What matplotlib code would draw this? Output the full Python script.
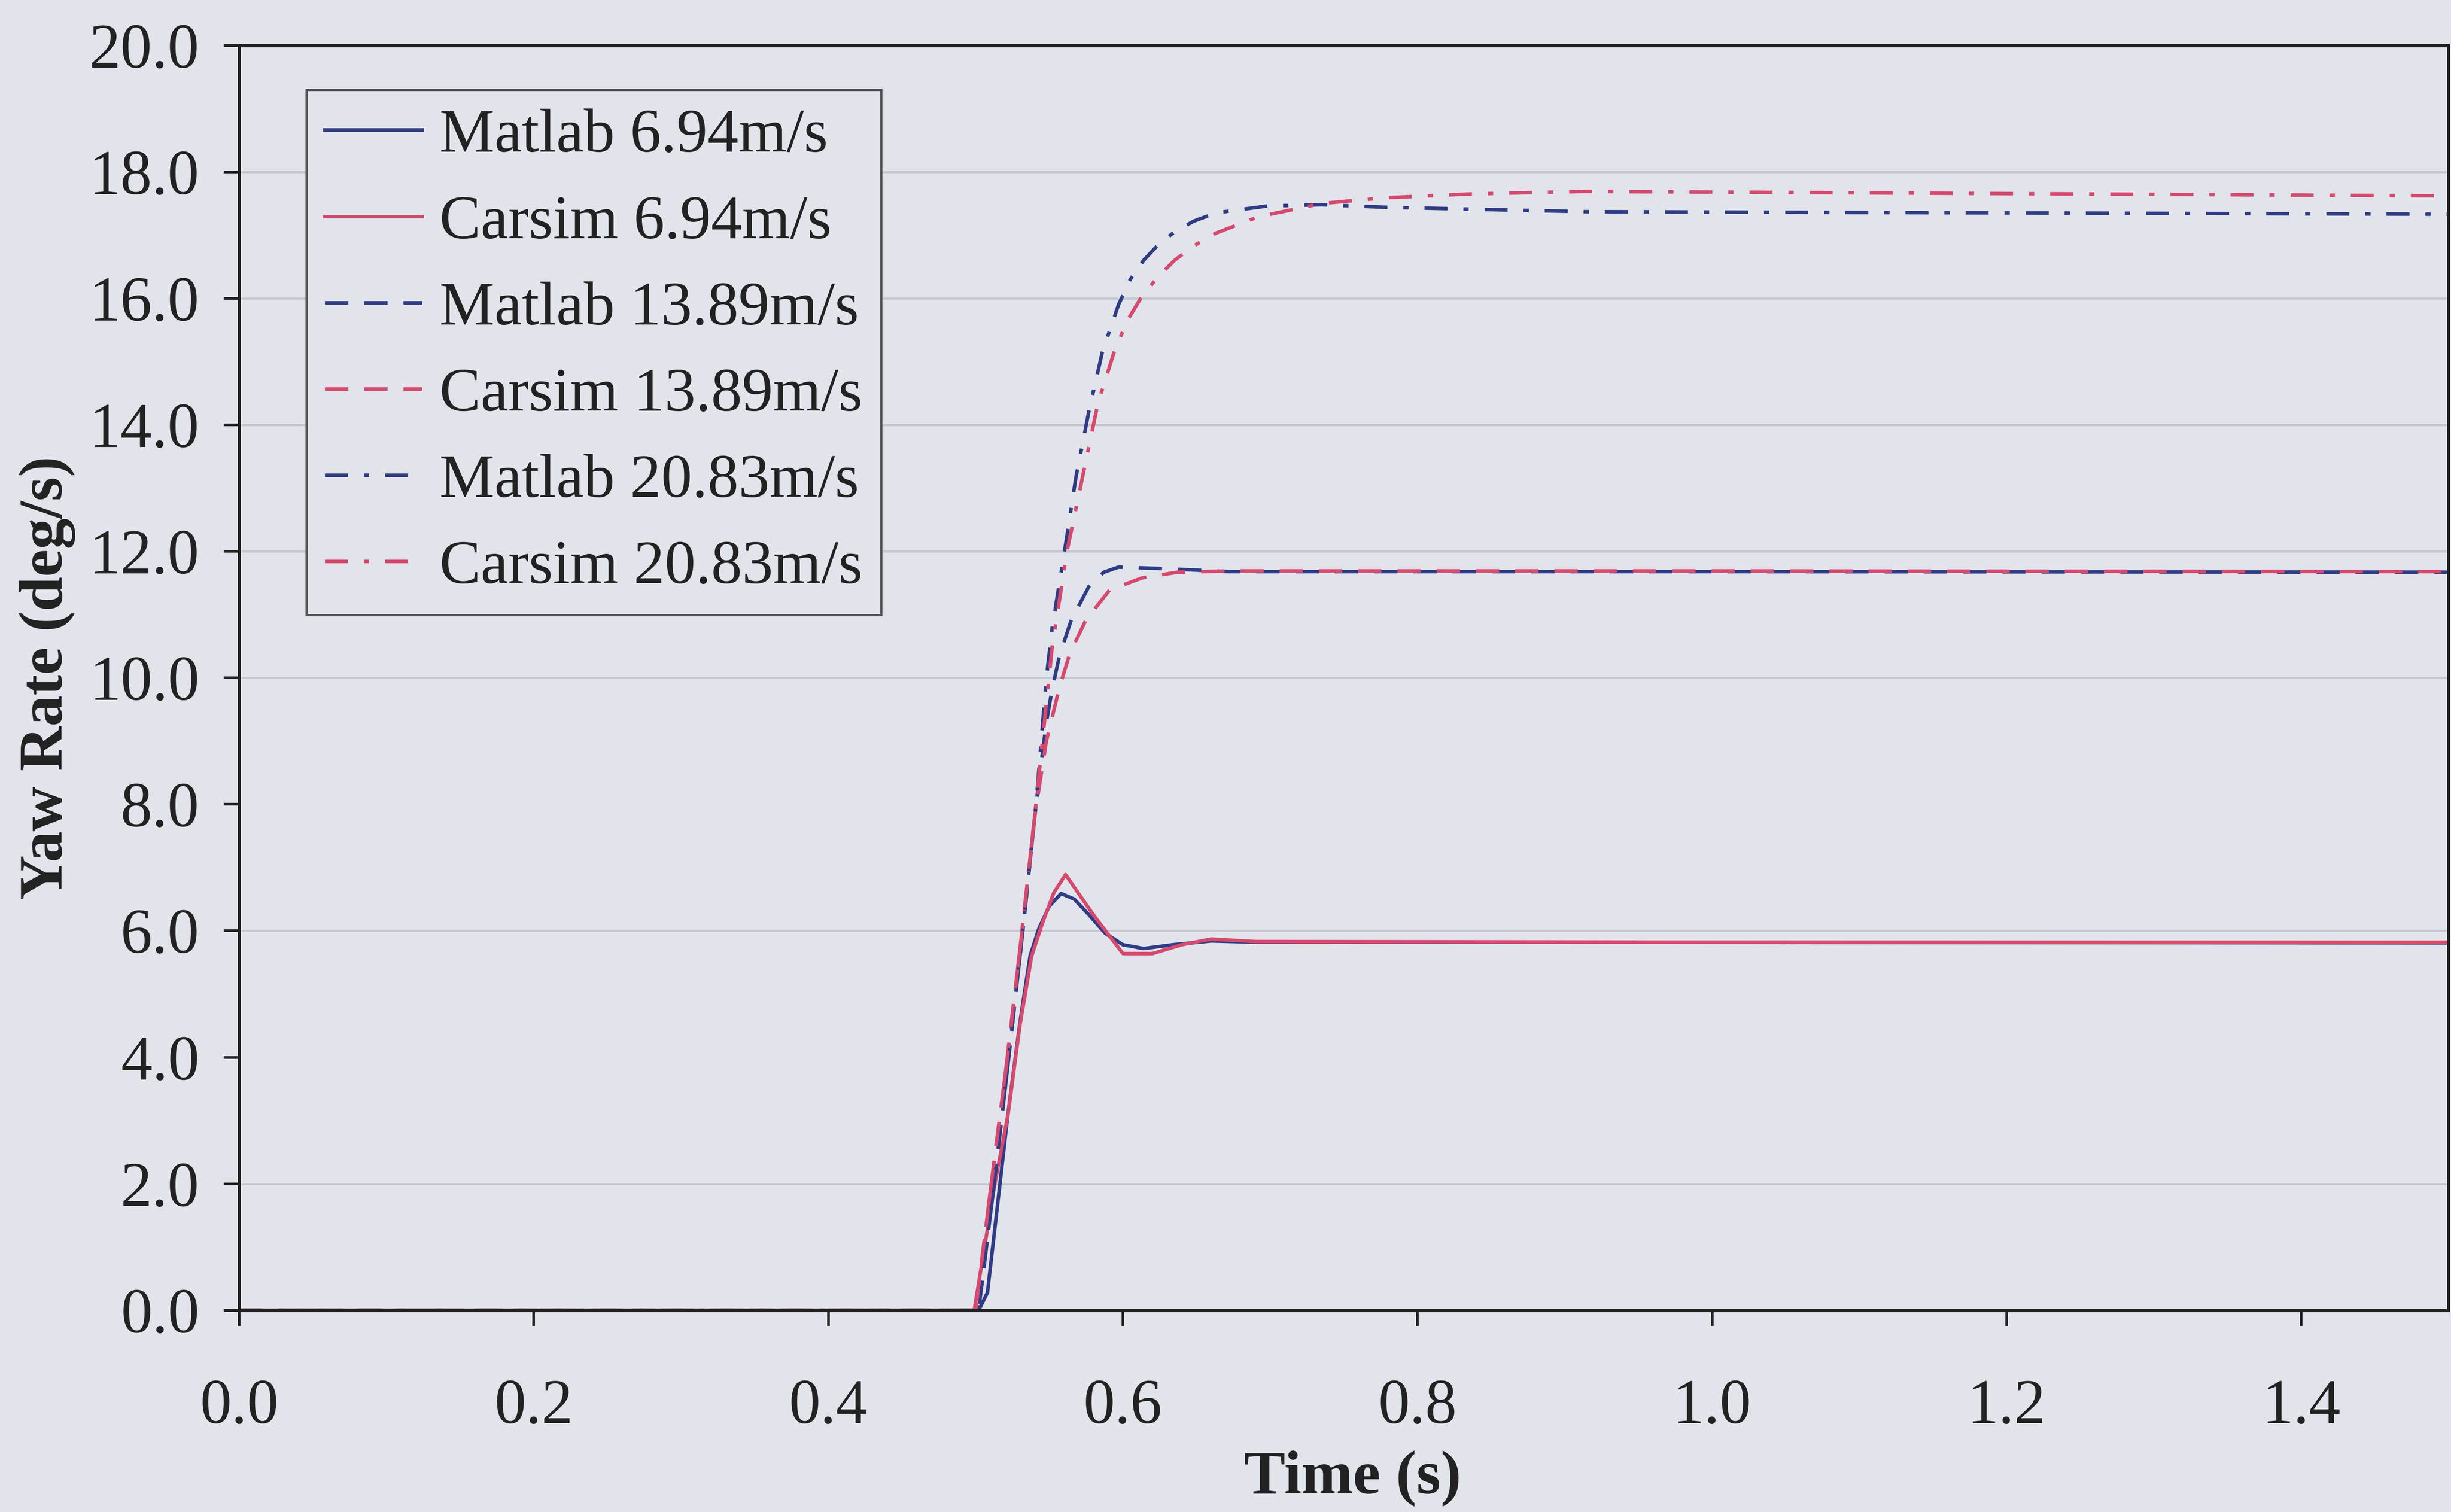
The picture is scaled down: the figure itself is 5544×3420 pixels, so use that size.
import matplotlib
matplotlib.use("Agg")
import matplotlib.pyplot as plt
from matplotlib.ticker import MultipleLocator, FormatStrFormatter

# Step steer yaw rate response
# time (s) / yaw rate (deg/s) for each run
t_matlab_694 = [0.0, 0.502, 0.508, 0.515, 0.522, 0.530, 0.537, 0.543, 0.550, 0.558,
                0.567, 0.577, 0.588, 0.600, 0.614, 0.634, 0.660, 0.692, 1.0, 1.5]
r_matlab_694 = [0.0, 0.0, 0.28, 1.70, 3.12, 4.54, 5.61, 6.04, 6.39, 6.59,
                6.50, 6.25, 5.96, 5.78, 5.72, 5.78, 5.84, 5.82, 5.82, 5.81]

t_carsim_694 = [0.0, 0.499, 0.506, 0.513, 0.522, 0.530, 0.538, 0.545, 0.553, 0.561,
                0.580, 0.600, 0.620, 0.640, 0.660, 0.690, 1.0, 1.5]
r_carsim_694 = [0.0, 0.0, 1.0, 2.0, 3.1, 4.5, 5.6, 6.1, 6.6, 6.89,
                6.25, 5.64, 5.64, 5.78, 5.87, 5.83, 5.82, 5.82]

t_matlab_1389 = [0.0, 0.502, 0.512, 0.522, 0.532, 0.541, 0.548, 0.552, 0.557, 0.565,
                 0.577, 0.587, 0.597, 0.624, 0.672, 1.0, 1.5]
r_matlab_1389 = [0.0, 0.0, 1.9, 3.9, 6.0, 8.0, 9.3, 9.83, 10.36, 10.92,
                 11.45, 11.67, 11.75, 11.73, 11.68, 11.68, 11.67]

t_carsim_1389 = [0.0, 0.500, 0.510, 0.521, 0.531, 0.540, 0.548, 0.557, 0.564, 0.575,
                 0.591, 0.613, 0.637, 0.672, 1.0, 1.5]
r_carsim_1389 = [0.0, 0.0, 1.9, 3.9, 5.9, 7.8, 9.0, 9.86, 10.39, 10.92,
                 11.39, 11.58, 11.67, 11.69, 11.69, 11.68]

t_matlab_2083 = [0.0, 0.502, 0.512, 0.522, 0.532, 0.541, 0.548, 0.552, 0.561, 0.568,
                 0.577, 0.586, 0.597, 0.605, 0.614, 0.624, 0.635, 0.648, 0.663, 0.698,
                 0.735, 0.778, 0.913, 1.5]
r_matlab_2083 = [0.0, 0.0, 1.9, 3.9, 6.0, 8.0, 10.0, 10.8, 12.1, 13.16,
                 14.23, 15.15, 15.9, 16.3, 16.6, 16.85, 17.05, 17.22, 17.35, 17.46,
                 17.48, 17.44, 17.37, 17.33]

t_carsim_2083 = [0.0, 0.500, 0.510, 0.521, 0.531, 0.540, 0.548, 0.552, 0.562, 0.571,
                 0.583, 0.594, 0.603, 0.612, 0.623, 0.635, 0.648, 0.663, 0.692, 0.735,
                 0.778, 0.836, 0.913, 1.5]
r_carsim_2083 = [0.0, 0.0, 1.9, 3.9, 5.9, 7.8, 9.6, 10.5, 12.0, 13.0,
                 14.34, 15.15, 15.65, 16.0, 16.32, 16.6, 16.83, 17.03, 17.29, 17.50,
                 17.59, 17.65, 17.69, 17.62]

labels = ["Matlab 6.94m/s", "Carsim 6.94m/s",
          "Matlab 13.89m/s", "Carsim 13.89m/s",
          "Matlab 20.83m/s", "Carsim 20.83m/s"]

# horizontal grid lines that are still visible on the print
grid_levels = [2, 6, 10, 12, 14, 16, 18]


def main():
    plt.rcParams['font.family'] = ['Liberation Serif', 'DejaVu Serif']
    bg = "#e2e4eb"
    ink = "#222222"
    blue = "#2f3c85"
    pink = "#d6496e"

    fig = plt.figure(figsize=(15.4, 9.5), dpi=360, facecolor=bg)
    ax = fig.add_axes([0.0976, 0.1334, 0.9014, 0.8366], facecolor=bg)

    dash = (0, (6.6, 4.5))
    dashdot = (0, (6.5, 4.5, 1.5, 4.5))
    lw = 1.6

    # Plot the six runs
    ax.plot(t_matlab_694, r_matlab_694, color=blue, lw=lw, label=labels[0])
    ax.plot(t_carsim_694, r_carsim_694, color=pink, lw=lw, label=labels[1])
    ax.plot(t_matlab_1389, r_matlab_1389, color=blue, lw=lw, ls=dash, label=labels[2])
    ax.plot(t_carsim_1389, r_carsim_1389, color=pink, lw=lw, ls=dash, label=labels[3])
    ax.plot(t_matlab_2083, r_matlab_2083, color=blue, lw=lw, ls=dashdot, label=labels[4])
    ax.plot(t_carsim_2083, r_carsim_2083, color=pink, lw=lw, ls=dashdot, label=labels[5])

    for g in grid_levels:
        ax.axhline(g, color="#c6c8cf", lw=1.0, zorder=0)

    ax.set_xlim(0, 1.5)
    ax.set_ylim(0, 20)
    ax.xaxis.set_major_locator(MultipleLocator(0.2))
    ax.yaxis.set_major_locator(MultipleLocator(2))
    ax.xaxis.set_major_formatter(FormatStrFormatter('%.1f'))
    ax.yaxis.set_major_formatter(FormatStrFormatter('%.1f'))

    for s in ax.spines.values():
        s.set_color(ink)
        s.set_linewidth(1.4)

    ax.tick_params(axis='both', direction='out', length=7, width=1.2,
                   colors=ink, labelsize=28.5)
    ax.tick_params(axis='x', pad=24)
    ax.tick_params(axis='y', pad=11)

    ax.set_xlabel("Time (s)", fontsize=28, fontweight='bold', color=ink)
    ax.set_ylabel("Yaw Rate (deg/s)", fontsize=28, fontweight='bold', color=ink)
    ax.xaxis.set_label_coords(0.504, -0.111)
    ax.yaxis.set_label_coords(-0.074, 0.5)

    leg = ax.legend(loc='upper left', bbox_to_anchor=(0.125, 0.9405),
                    bbox_transform=fig.transFigure, borderaxespad=0,
                    fontsize=28, handlelength=1.57, handletextpad=0.28,
                    labelspacing=0.48, borderpad=0.3, fancybox=False,
                    framealpha=1, facecolor=bg, edgecolor="#555555")
    leg.get_frame().set_linewidth(1.0)
    for txt in leg.get_texts():
        txt.set_color(ink)

    fig.savefig("out.png", dpi=360, facecolor=bg)


if __name__ == "__main__":
    main()
